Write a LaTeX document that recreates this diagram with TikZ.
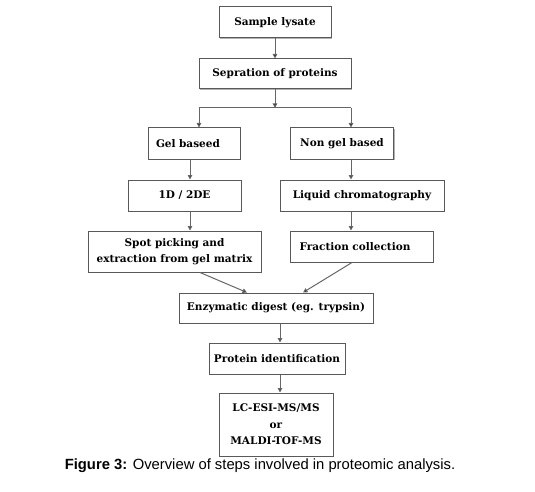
\documentclass[tikz,border=0pt]{standalone}
\usepackage{fontspec}
\setmainfont{DejaVu Serif}
\newfontfamily\capfont{Liberation Sans}
\usetikzlibrary{arrows.meta,shadows}
\begin{document}
\begin{tikzpicture}[x=1pt,y=-1pt,
  box/.style={draw=black!65, line width=1pt, fill=white, inner sep=0pt,
    font=\fontsize{10.5}{13}\selectfont\bfseries, align=center,
    drop shadow={shadow xshift=1pt, shadow yshift=-1pt, fill=black!30, opacity=1}},
  widelines/.style={font=\fontsize{10.5}{16.5}\selectfont\bfseries},
  lefttext/.style={text width=#1, align=left},
  conn/.style={draw=black!60, line width=1pt},
  arr/.style={conn, -{Triangle[length=4.5pt,width=4.5pt,fill=black]}}]
\useasboundingbox (0,0) rectangle (535,492);
\node[box, minimum width=112pt, minimum height=31pt] (s1) at (275,22.5) {Sample lysate};
\node[box, minimum width=152pt, minimum height=30pt] (s2) at (275,74) {Sepration of proteins};
\node[box, minimum width=92pt, minimum height=31pt, lefttext=76pt] (gel) at (194,143.5) {Gel baseed};
\node[box, minimum width=103pt, minimum height=31pt] (ngel) at (342,143.5) {Non gel based};
\node[box, minimum width=113pt, minimum height=31pt] (d12) at (184.5,195.5) {1D / 2DE};
\node[box, minimum width=164pt, minimum height=31pt] (lc) at (362,195.5) {Liquid chromatography};
\node[box, widelines, minimum width=173pt, minimum height=41pt] (spot) at (174.5,251.5) {Spot picking and\\extraction from gel matrix};
\node[box, minimum width=143pt, minimum height=31pt, lefttext=124pt] (frac) at (361.5,246.5) {Fraction collection};
\node[box, minimum width=194pt, minimum height=30pt] (enz) at (276,308) {Enzymatic digest (eg. trypsin)};
\node[box, minimum width=136pt, minimum height=31pt] (pid) at (277,358.5) {Protein identification};
\node[box, widelines, minimum width=114pt, minimum height=63pt] (ms) at (276,424.5) {LC-ESI-MS/MS\\or\\MALDI-TOF-MS};
\node[font=\capfont\fontsize{14.8}{17}\selectfont] (cap) at (260,466) {\textbf{Figure 3:} Overview of steps involved in proteomic analysis.};
% connectors
\coordinate (jn) at (275,108);
\coordinate (jl) at (199,108);
\coordinate (jr) at (351,108);
\coordinate (xg) at (190,0);
\coordinate (xr) at (351,0);
\coordinate (xm) at (280,0);
\draw[arr] (s1) -- (s2);
\draw[arr] (s2) -- (jn);
\draw[conn] (jl) -- (jr);
\draw[arr] (jl) -- (jl |- gel.north);
\draw[arr] (jr) -- (jr |- ngel.north);
\draw[arr] (gel.south -| xg) -- (d12.north -| xg);
\draw[arr] (d12.south -| xg) -- (spot.north -| xg);
\draw[arr] (ngel.south -| xr) -- (lc.north -| xr);
\draw[arr] (lc.south -| xr) -- (frac.north -| xr);
\coordinate (ea) at (247,0);
\coordinate (eb) at (303,0);
\coordinate (sa) at (200,0);
\coordinate (fa) at (352,0);
\draw[arr] (spot.south -| sa) -- (enz.north -| ea);
\draw[arr] (frac.south -| fa) -- (enz.north -| eb);
\draw[arr] (enz.south -| xm) -- (pid.north -| xm);
\draw[arr] (pid.south -| xm) -- (ms.north -| xm);
\end{tikzpicture}
\end{document}
